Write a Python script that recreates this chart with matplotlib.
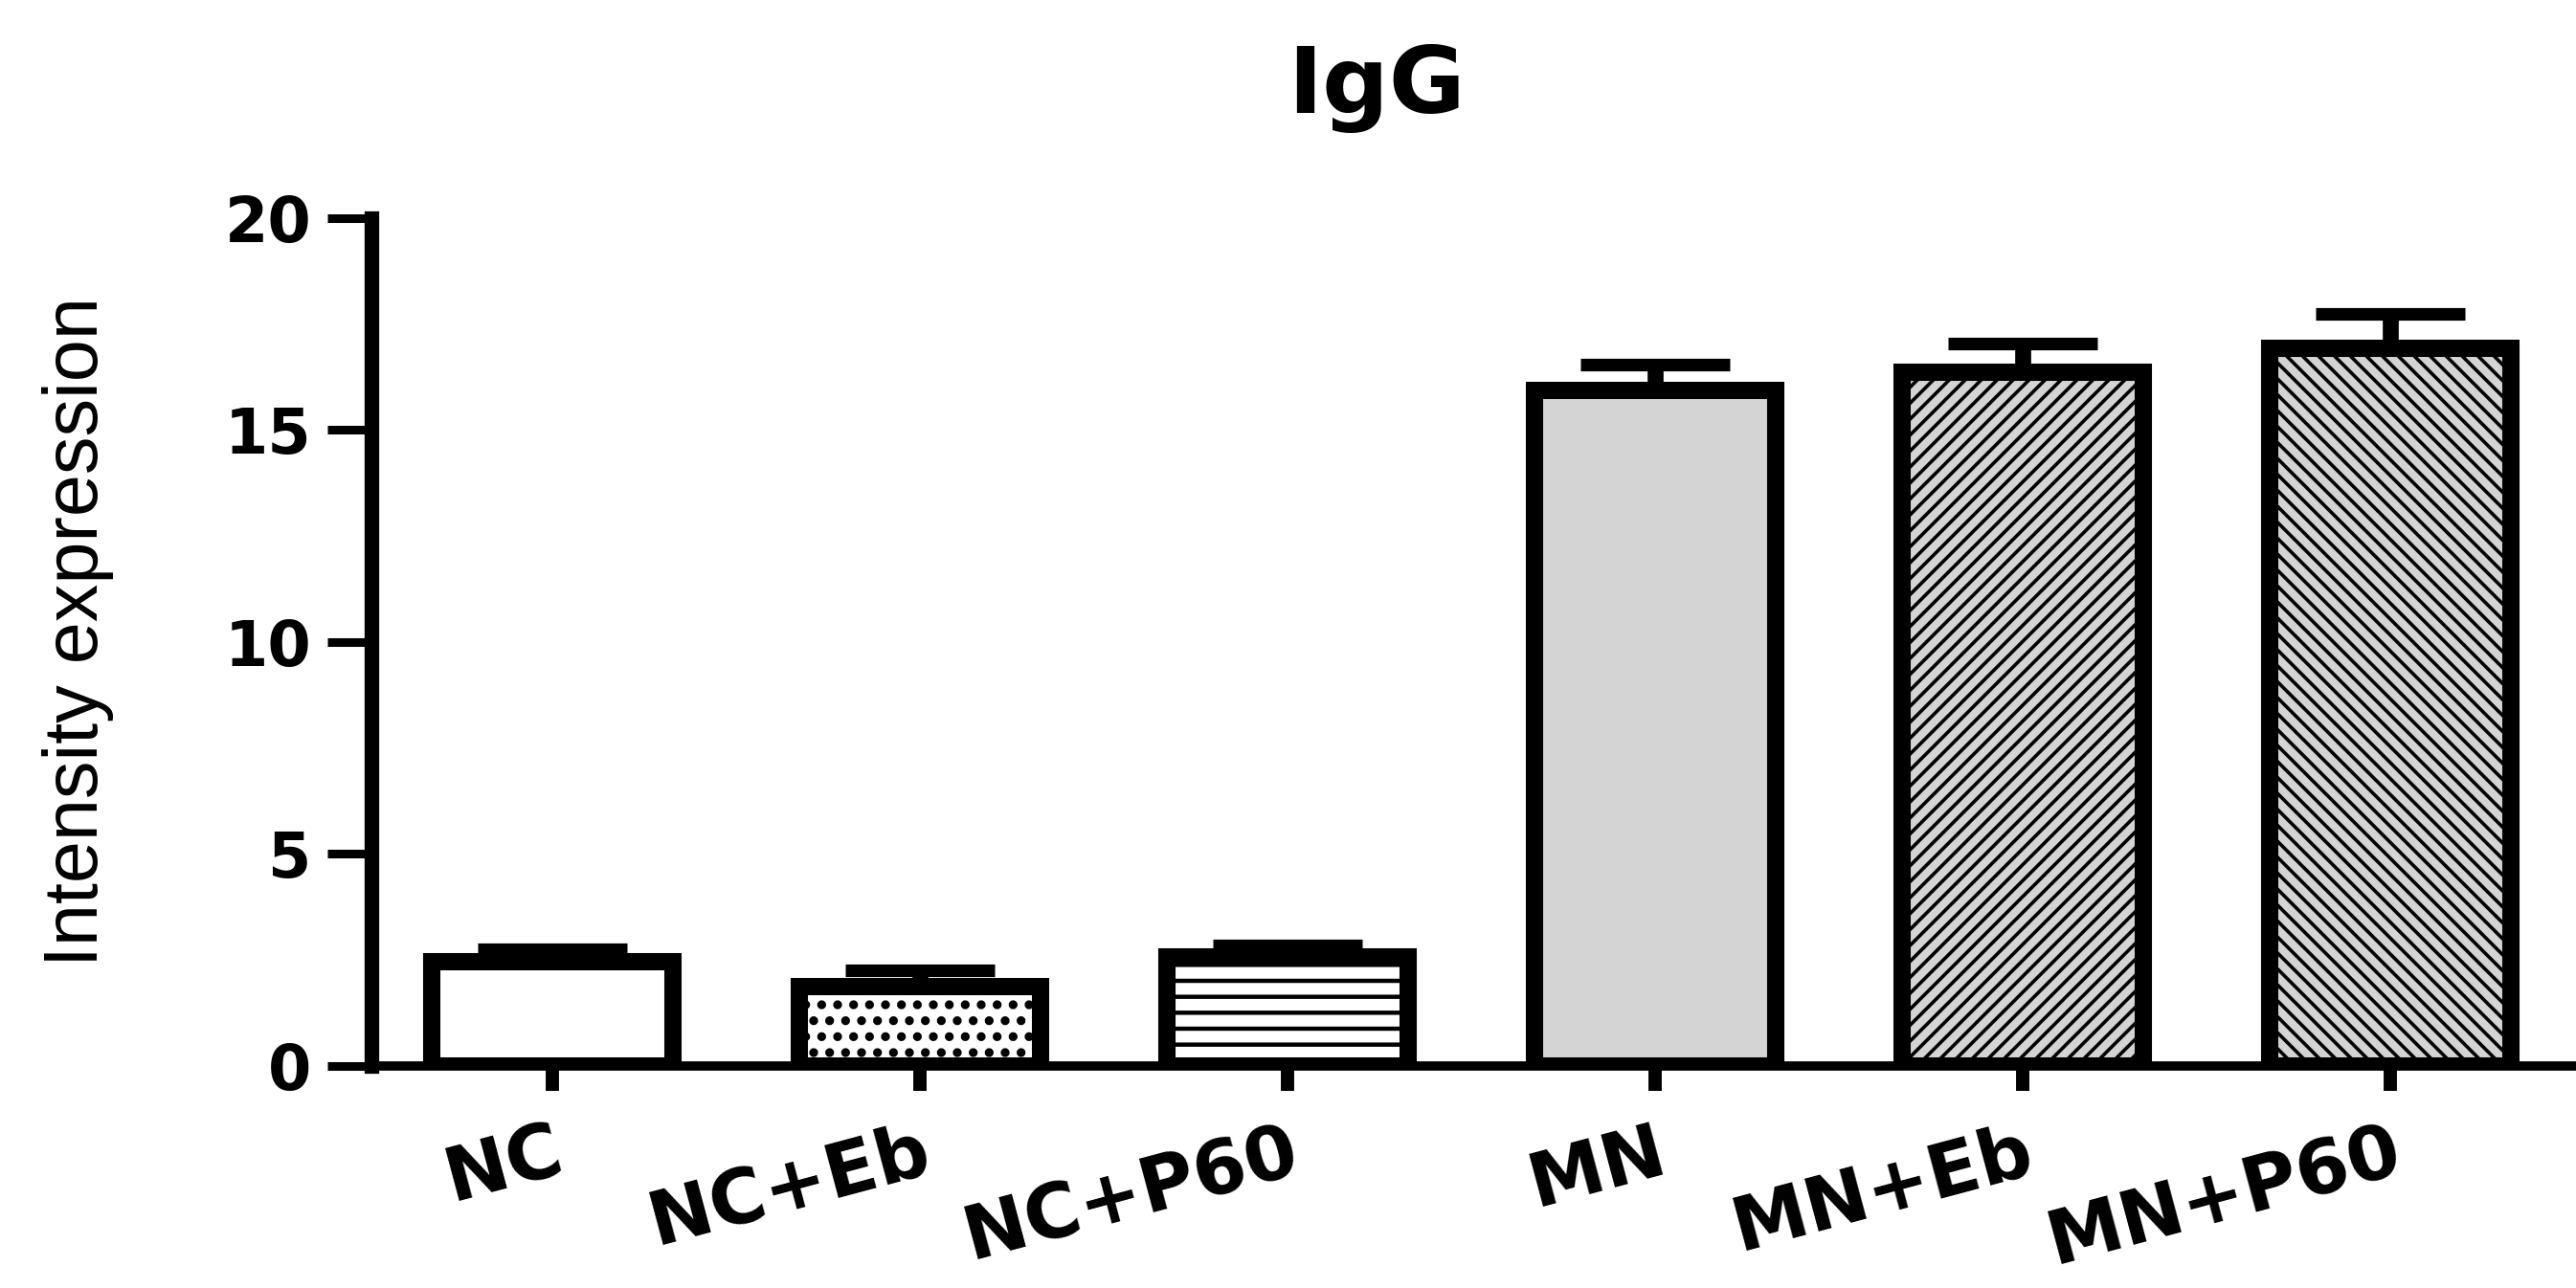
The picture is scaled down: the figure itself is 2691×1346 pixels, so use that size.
import matplotlib
matplotlib.use("Agg")
import matplotlib.pyplot as plt
import numpy as np

# Group labels, mean intensity and upper SEM for each treatment group
groups = ["NC", "NC+Eb", "NC+P60", "MN", "MN+Eb", "MN+P60"]
means = [2.46, 1.87, 2.57, 15.94, 16.37, 16.93]
sem = [0.29, 0.39, 0.27, 0.61, 0.67, 0.81]
y_ticks = [0, 5, 10, 15, 20]

# Fill and hatch styling per group
face_colors = ["white", "white", "white", "#d4d4d4", "#d4d4d4", "#d4d4d4"]
hatches = ["", ".", "-", "", "//", "\\\\"]
hatch_widths = [3.0, 4.2, 3.2, 3.0, 2.6, 2.6]

plt.rcParams["hatch.linewidth"] = 3.0

fig = plt.figure(figsize=(26.91, 13.46), dpi=100)
ax = fig.add_axes([0.1442, 0.1724, 1.0 - 0.1442, 0.8306 - 0.1724])

x = np.arange(len(groups))
bars = ax.bar(x, means, width=0.655, color=face_colors, edgecolor="black",
              linewidth=13, zorder=3)
for bar, h, hw in zip(bars, hatches, hatch_widths):
    bar.set_hatch(h)
    if hasattr(bar, "set_hatch_linewidth"):
        bar.set_hatch_linewidth(hw)

# One-sided (upper) error bars
ax.errorbar(x, means, yerr=[np.zeros(len(sem)), sem], fmt="none",
            ecolor="black", elinewidth=12, capsize=56, capthick=9.5, zorder=2)

ax.set_xlim(-0.492, 5.505)
ax.set_ylim(0, 20)
ax.set_yticks(y_ticks)
ax.set_xticks(x)
ax.set_xticklabels(groups, rotation=15, ha="right", rotation_mode="anchor",
                   fontsize=57, fontweight="bold", family="DejaVu Sans")
ax.set_yticklabels([str(v) for v in y_ticks], fontsize=47, fontweight="bold",
                   family="DejaVu Sans")

for side in ("top", "right"):
    ax.spines[side].set_visible(False)
ax.spines["left"].set_linewidth(11)
ax.spines["bottom"].set_linewidth(7)
ax.spines["left"].set_capstyle("projecting")
ax.tick_params(axis="y", length=33, width=6.5, pad=12, color="black")
ax.tick_params(axis="x", length=19, width=10, pad=18, color="black")

ax.set_ylabel("Intensity expression", fontsize=57, family="Liberation Sans",
              va="center", ha="center")
ax.yaxis.set_label_coords(-0.133, 0.512)

fig.text(1438 / 2691, 1 - 118 / 1346, "IgG", ha="center", va="baseline",
         fontsize=70, fontweight="bold", family="DejaVu Sans")

fig.savefig("out.png", dpi=100, facecolor="white")
